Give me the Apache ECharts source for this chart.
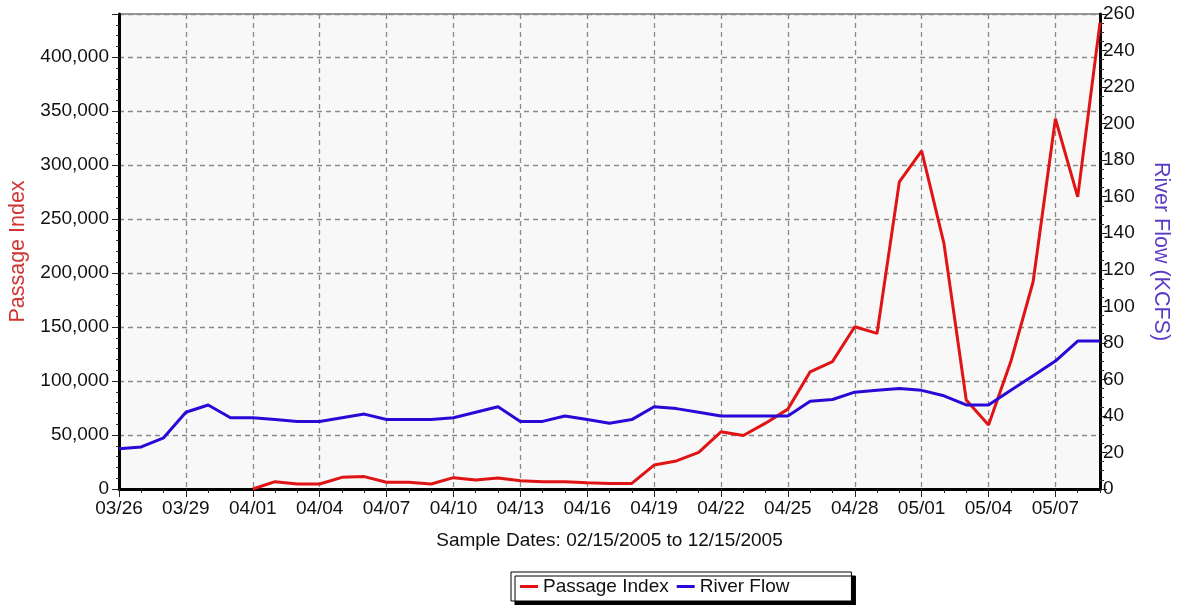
<!DOCTYPE html>
<html>
<head>
<meta charset="utf-8">
<script src="https://cdn.jsdelivr.net/npm/echarts@6/dist/echarts.min.js"></script>
<style>
html,body{margin:0;padding:0;background:#fff;}
#chart{width:1180px;height:605px;}
</style>
</head>
<body>
<div id="chart"></div>
<script>
const dates = ['03/26','03/27','03/28','03/29','03/30','03/31','04/01','04/02','04/03','04/04','04/05','04/06','04/07','04/08','04/09','04/10','04/11','04/12','04/13','04/14','04/15','04/16','04/17','04/18','04/19','04/20','04/21','04/22','04/23','04/24','04/25','04/26','04/27','04/28','04/29','04/30','05/01','05/02','05/03','05/04','05/05','05/06','05/07','05/08','05/09'];
const passageIndex = [null,null,null,null,null,null,0,6800,4600,4600,10800,11500,6200,6200,4600,10500,8300,10200,7700,6800,6800,5700,5200,5200,22200,26000,34000,53000,49500,61000,74000,108600,118000,150300,144100,284500,313200,227500,82400,59300,118000,192000,343000,270600,432000];
const riverFlow = [22,23,28,42,46,39,39,38,37,37,39,41,38,38,38,39,42,45,37,37,40,38,36,38,45,44,42,40,40,40,40,48,49,53,54,55,54,51,46,46,54,62,70,81,81];
const seriesNames = ['Passage Index','River Flow'];
const leftTicks = {min:0, max:440000, step:50000};
const rightTicks = {min:0, max:260, step:20};
const xName = 'Sample Dates: 02/15/2005 to 12/15/2005';
const leftName = 'Passage Index';
const rightName = 'River Flow (KCFS)';

const FONT = 'Liberation Sans, Arial, sans-serif';
const FS = 19;
const chart = echarts.init(document.getElementById('chart'), null, {renderer:'canvas'});
const gridDash = {type:[5,4], color:'#8a8a8a', width:1.3};

chart.setOption({
  animation:false,
  backgroundColor:'#fff',
  textStyle:{fontFamily:FONT},
  grid:{left:119, right:80, top:14, bottom:116, outerBoundsMode:'none', containLabel:false,
    show:true, backgroundColor:'#f8f8f8', borderColor:'#333', borderWidth:1},
  legend:{
    data:seriesNames,
    left:511, top:572,
    icon:'rect', itemWidth:18, itemHeight:3, itemGap:8,
    padding:[5,62,5,9],
    backgroundColor:'#fff', borderColor:'#000', borderWidth:1,
    shadowColor:'#000', shadowBlur:0, shadowOffsetX:4, shadowOffsetY:4,
    textStyle:{fontFamily:FONT, fontSize:FS, color:'#111'}
  },
  xAxis:[{
    type:'category', data:dates, boundaryGap:false,
    name:xName, nameLocation:'middle', nameGap:42,
    nameTextStyle:{fontFamily:FONT, fontSize:FS, color:'#111'},
    axisLine:{show:true, lineStyle:{color:'#000', width:3}},
    axisTick:{show:true, interval:0, length:4, lineStyle:{color:'#222', width:1}},
    axisLabel:{interval:2, fontFamily:FONT, fontSize:FS, color:'#111', margin:10},
    splitLine:{show:true, interval:2, lineStyle:gridDash}
  },{
    type:'category', data:dates, boundaryGap:false, position:'bottom',
    axisLine:{show:false},
    axisTick:{show:true, interval:2, length:8, lineStyle:{color:'#222', width:1}},
    axisLabel:{show:false}, splitLine:{show:false}
  }],
  yAxis:[{
    type:'value', position:'left', min:leftTicks.min, max:leftTicks.max, interval:leftTicks.step,
    name:leftName, nameLocation:'middle', nameGap:89, nameRotate:90,
    nameTextStyle:{fontFamily:FONT, fontSize:21.5, color:'#d03535'},
    axisLine:{show:true, lineStyle:{color:'#000', width:3}},
    axisTick:{show:true, length:7, lineStyle:{color:'#222'}},
    minorTick:{show:true, splitNumber:5, length:3, lineStyle:{color:'#333'}},
    axisLabel:{fontFamily:FONT, fontSize:FS, color:'#111', margin:10,
      formatter:v => (v % leftTicks.step === 0) ? v.toLocaleString('en-US') : ''},
    splitLine:{show:true, lineStyle:gridDash}
  },{
    type:'value', position:'right', min:rightTicks.min, max:rightTicks.max, interval:rightTicks.step,
    name:rightName, nameLocation:'middle', nameGap:50, nameRotate:-90,
    nameTextStyle:{fontFamily:FONT, fontSize:21.5, color:'#5a3cc4'},
    axisLine:{show:true, lineStyle:{color:'#000', width:3}},
    axisTick:{show:true, length:7, lineStyle:{color:'#222'}},
    minorTick:{show:true, splitNumber:4, length:4, lineStyle:{color:'#333'}},
    axisLabel:{fontFamily:FONT, fontSize:FS, color:'#111', margin:3},
    splitLine:{show:false}
  }],
  series:[{
    name:seriesNames[0], type:'line', data:passageIndex, yAxisIndex:0, xAxisIndex:0,
    showSymbol:false, connectNulls:false, color:'#e01414',
    lineStyle:{width:3, color:'#e01414'}
  },{
    name:seriesNames[1], type:'line', data:riverFlow, yAxisIndex:1, xAxisIndex:0,
    showSymbol:false, color:'#2a08d6',
    lineStyle:{width:3, color:'#2a08d6'}
  }]
});
</script>
</body>
</html>
